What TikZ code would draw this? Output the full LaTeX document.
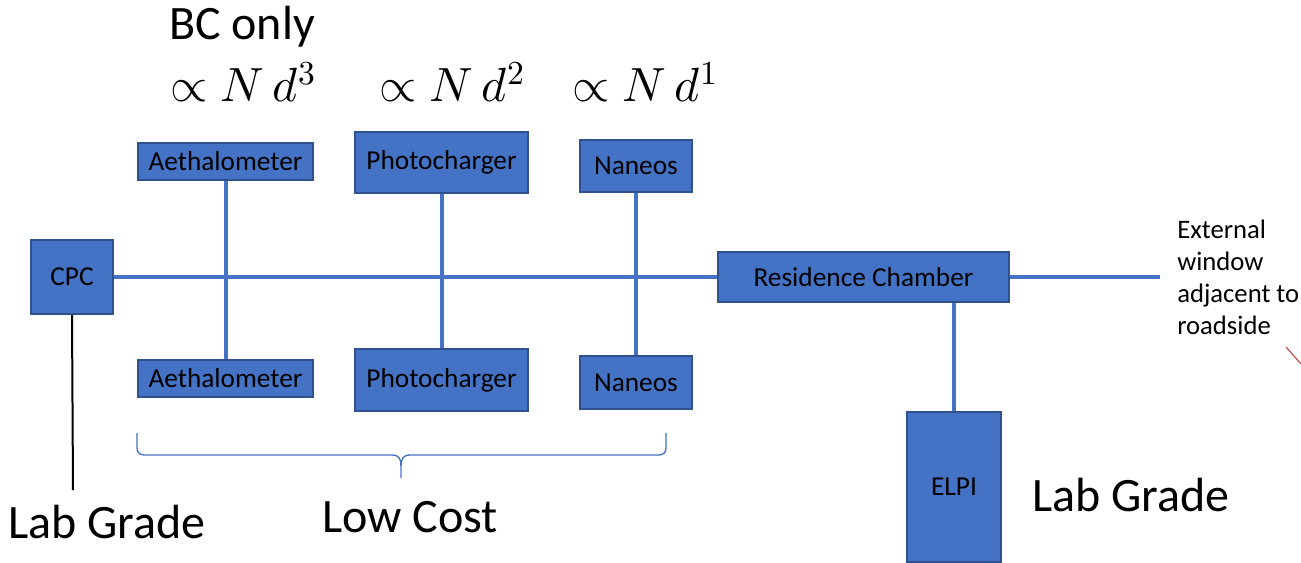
\documentclass[tikz,border=0pt]{standalone}
\usepackage{unicode-math}
\setmainfont{Carlito}
\usetikzlibrary{backgrounds}
\definecolor{obox}{HTML}{4472C4}
\definecolor{oedge}{HTML}{2F528F}
\definecolor{ored}{HTML}{C0504D}
\begin{document}
\begin{tikzpicture}[x=0.75pt,y=-0.75pt,
  box/.style={draw=oedge,fill=obox,line width=0.8pt,inner sep=0pt,font=\fontsize{20.5}{24}\selectfont,text=black},
  pipe/.style={draw=obox,line width=3pt},
  big/.style={font=\fontsize{36}{42}\selectfont,inner sep=0pt},
  mth/.style={font=\fontsize{36}{42}\selectfont,inner sep=0pt},
  brace/.style={draw=obox,line width=1pt}]
\useasboundingbox (0,0) rectangle (1301,563);
\node[box,minimum width=61.5pt,minimum height=55.5pt] (cpc) at (72,277) {CPC};
\node[box,minimum width=131.25pt,minimum height=27.75pt] (aetT) at (225.5,161.5) {Aethalometer};
\node[box,minimum width=129.75pt,minimum height=45.75pt] (phoT) at (441.5,162.5) {Photocharger};
\node[box,minimum width=84pt,minimum height=39pt] (nanT) at (636,166) {Naneos};
\node[box,minimum width=131.25pt,minimum height=27.75pt] (aetB) at (225.5,378.5) {Aethalometer};
\node[box,minimum width=129.75pt,minimum height=46.5pt] (phoB) at (441.5,380) {Photocharger};
\node[box,minimum width=84pt,minimum height=39.75pt] (nanB) at (636,382.5) {Naneos};
\node[box,minimum width=218.25pt,minimum height=37.5pt] (res) at (863.5,277) {Residence Chamber};
\node[box,minimum width=70.5pt,minimum height=112.5pt] (elpi) at (954,487) {ELPI};
\coordinate (ext) at (1160,277);
\coordinate (cpcend) at (73,490);
\begin{scope}[on background layer]
\draw[pipe] (cpc.east) -- (res.west);
\draw[pipe] (res.east) -- (ext);
\draw[pipe] (aetT) -- (aetB);
\draw[pipe] (phoT) -- (phoB);
\draw[pipe] (nanT) -- (nanB);
\draw[pipe] (elpi.north) -- (elpi.north |- res.south);
\draw[black,line width=1.5pt] (cpc.south) -- (cpcend);
\end{scope}
\node[big] (bc) at (242,27) {BC only};
\node[mth] (m3) at (243,82) {$\propto N\,d^3$};
\node[mth] (m2) at (452,82) {$\propto N\,d^2$};
\node[mth] (m1) at (645,82) {$\propto N\,d^1$};
\node[big] (lgl) at (107,522) {Lab Grade};
\node[big] (lc) at (410,517) {Low Cost};
\node[big] (lgr) at (1131,495) {Lab Grade};
\node[anchor=west,align=left,inner sep=0pt,font=\fontsize{20}{24}\selectfont] (extt) at (1177,277.5) {External\\window\\adjacent to\\roadside};
\draw[brace] (137,433) -- (137,447) .. controls (137,453) and (139,455) .. (146,455)
  -- (392,455) .. controls (399,455) and (401,459) .. (401,466) -- (401,478);
\draw[brace] (666,433) -- (666,447) .. controls (666,453) and (664,455) .. (657,455)
  -- (410,455) .. controls (403,455) and (401,459) .. (401,466);
\coordinate (r1) at (1286,347);
\coordinate (r2) at (1301,364);
\draw[ored,line width=0.9pt] (r1) -- (r2);
\end{tikzpicture}
\end{document}
